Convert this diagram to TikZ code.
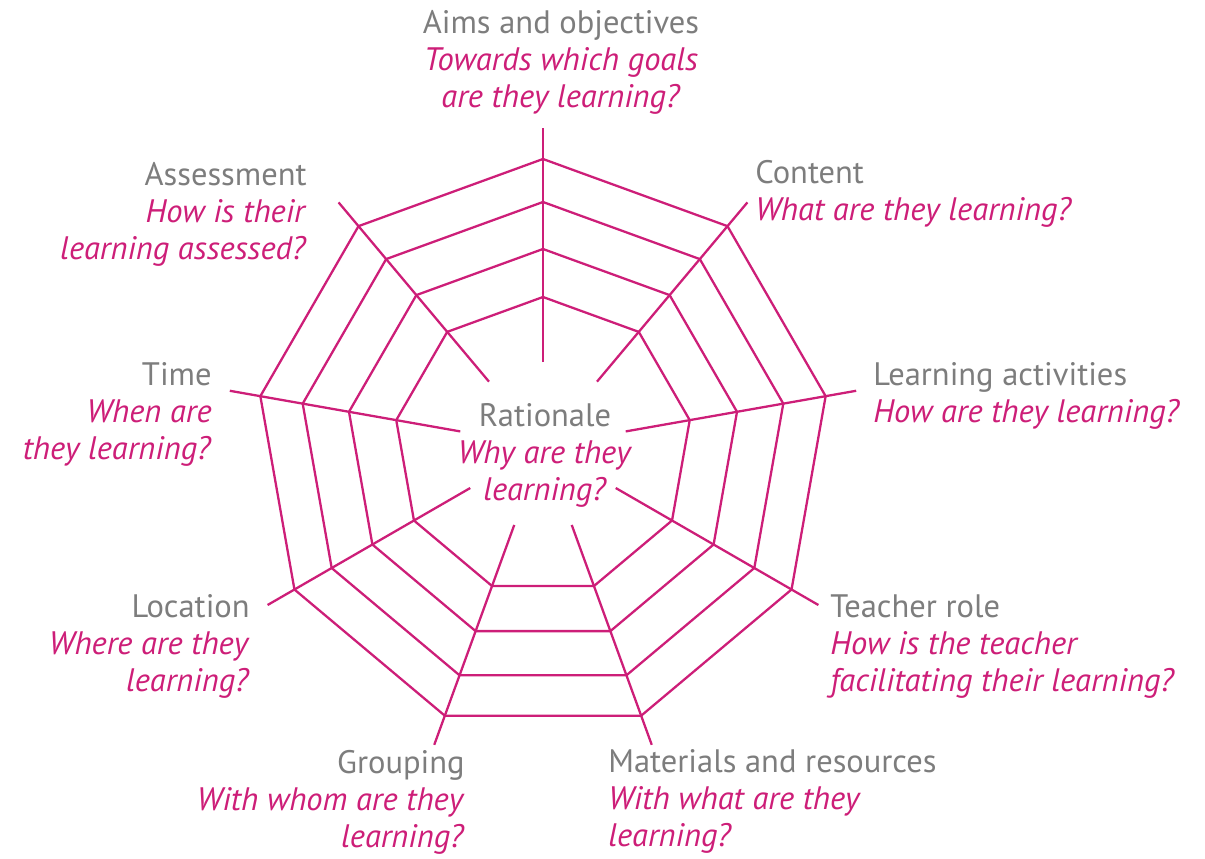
\documentclass[tikz,border=0pt]{standalone}
\usepackage{fontspec}
\setmainfont{PT Sans}
\usetikzlibrary{positioning}
\definecolor{webpink}{RGB}{205,30,120}
\definecolor{headgrey}{RGB}{125,125,125}
\newcommand{\dimhead}[1]{\textcolor{headgrey}{#1}}

\begin{document}
\begin{tikzpicture}[web/.style={draw=webpink,line width=1.3pt},
    dim/.style={inner sep=0pt,text=webpink,font=\fontsize{18.5}{21}\selectfont}]
   \useasboundingbox (-10.86,-8.24) rectangle (13.24,8.92);

   % rings of the web
   \foreach \r in {5.74,4.88,3.94,2.98}
     \draw[web] (90:\r) \foreach \a in {130,170,...,410} { -- (\a:\r) } -- cycle;
   % spokes
   \foreach \a in {90,130,...,410}
     \draw[web] (\a:1.68) -- (\a:6.36);

   % labels (base = last line)
   \node[dim,align=center,anchor=base] (rationale) at (0.04,-1.08)
     {\dimhead{Rationale}\\\textit{Why are they}\\\textit{learning?}};
   \node[dim,align=center,anchor=base] (aims) at (0.36,6.78)
     {\dimhead{Aims and objectives}\\\textit{Towards which goals}\\\textit{are they learning?}};
   \node[dim,align=left,anchor=base west] (content) at (4.24,4.52)
     {\dimhead{Content}\\\textit{What are they learning?}};
   \node[dim,align=left,anchor=base west] (activities) at (6.60,0.48)
     {\dimhead{Learning activities}\\\textit{How are they learning?}};
   \node[dim,align=left,anchor=base west] (teacher) at (5.74,-4.90)
     {\dimhead{Teacher role}\\\textit{How is the teacher}\\\textit{facilitating their learning?}};
   \node[dim,align=left,anchor=base west] (materials) at (1.30,-8.00)
     {\dimhead{Materials and resources}\\\textit{With what are they}\\\textit{learning?}};
   \node[dim,align=right,anchor=base east] (grouping) at (-1.56,-8.02)
     {\dimhead{Grouping}\\\textit{With whom are they}\\\textit{learning?}};
   \node[dim,align=right,anchor=base east] (location) at (-5.86,-4.90)
     {\dimhead{Location}\\\textit{Where are they}\\\textit{learning?}};
   \node[dim,align=right,anchor=base east] (time) at (-6.62,-0.26)
     {\dimhead{Time}\\\textit{When are}\\\textit{they learning?}};
   \node[dim,align=right,anchor=base east] (assessment) at (-4.72,3.74)
     {\dimhead{Assessment}\\\textit{How is their}\\\textit{learning assessed?}};
\end{tikzpicture}
\end{document}
